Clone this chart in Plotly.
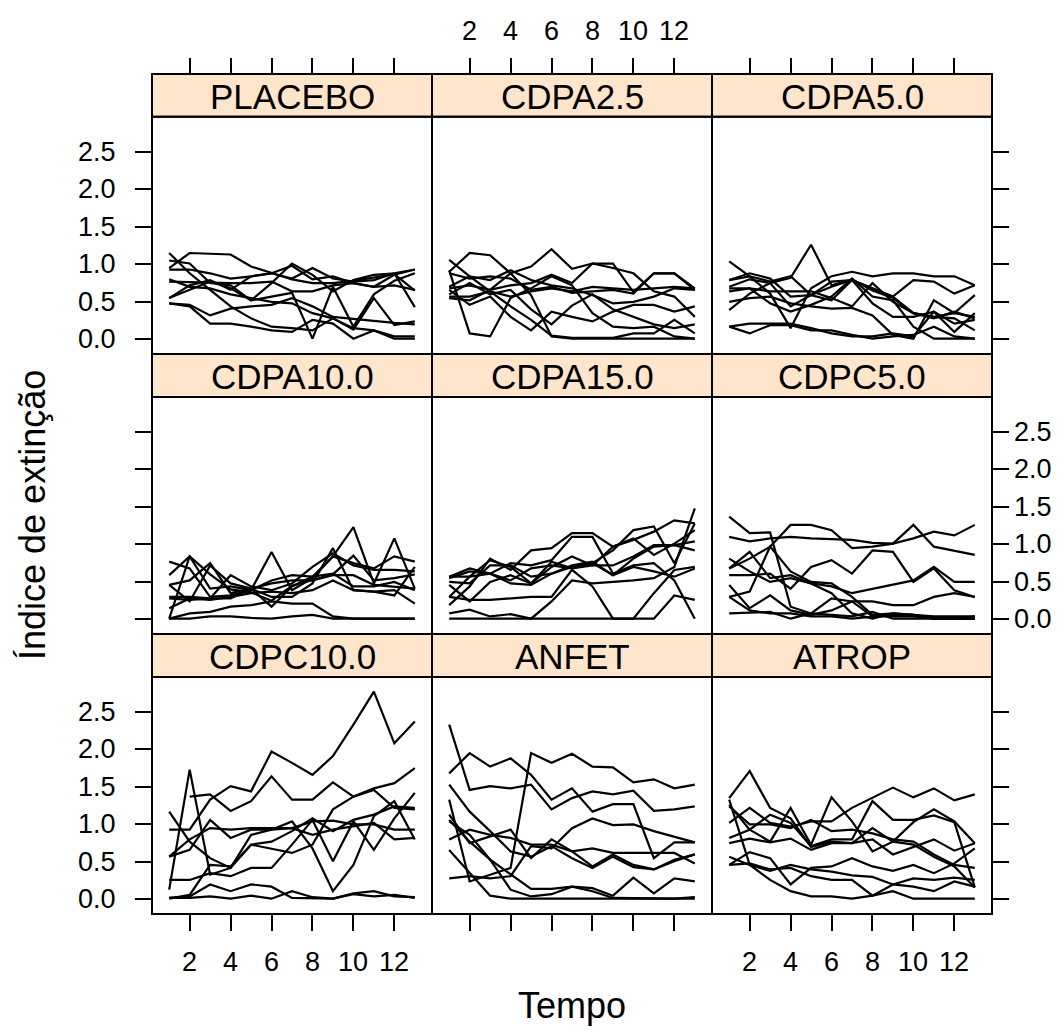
import plotly.graph_objects as go

TIME = list(range(1, 14))
PANELS = ["PLACEBO", "CDPA2.5", "CDPA5.0", "CDPA10.0", "CDPA15.0", "CDPC5.0",
          "CDPC10.0", "ANFET", "ATROP"]
X_TICKS = [2, 4, 6, 8, 10, 12]
X_TICKTEXT = ["2", "4", "6", "8", "10", "12"]
Y_TICKS = [0.0, 0.5, 1.0, 1.5, 2.0, 2.5]
Y_TICKTEXT = ["0.0", "0.5", "1.0", "1.5", "2.0", "2.5"]

PLACEBO = [
    [0.95, 1.15, 1.14, 1.13, 0.97, 0.88, 0.80, 0.75, 0.75, 0.78, 0.83, 0.87, 0.65],
    [1.15, 0.88, 0.66, 0.44, 0.28, 0.17, 0.15, 0.12, 0.28, 0.15, 0.12, 0.04, 0.04],
    [1.05, 1.01, 0.75, 0.72, 0.52, 0.75, 1.01, 0.86, 0.64, 0.79, 0.86, 0.88, 0.43],
    [0.93, 0.93, 0.88, 0.81, 0.84, 0.88, 0.81, 0.95, 0.81, 0.77, 0.79, 0.88, 0.93],
    [0.77, 0.76, 0.75, 0.75, 0.75, 0.77, 0.64, 0.64, 0.72, 0.75, 0.70, 0.72, 0.66],
    [0.55, 0.66, 0.77, 0.68, 0.52, 0.57, 0.62, 0.01, 0.70, 0.17, 0.60, 0.78, 0.88],
    [0.48, 0.46, 0.32, 0.41, 0.44, 0.46, 0.55, 0.44, 0.30, 0.27, 0.24, 0.22, 0.20],
    [0.48, 0.44, 0.21, 0.21, 0.17, 0.12, 0.10, 0.26, 0.21, 0.01, 0.12, 0.01, 0.01],
    [0.55, 0.72, 0.79, 0.66, 0.84, 0.88, 0.98, 0.80, 0.84, 0.75, 0.70, 0.86, 0.93],
    [0.80, 0.70, 0.68, 0.60, 0.55, 0.50, 0.48, 0.35, 0.28, 0.13, 0.55, 0.19, 0.24],
]
CDPA2_5 = [
    [0.90, 1.15, 1.12, 0.88, 0.59, 0.04, 0.01, 0.01, 0.01, 0.01, 0.01, 0.01, 0.01],
    [0.55, 0.52, 0.66, 0.88, 0.97, 1.20, 0.94, 1.01, 1.01, 0.63, 0.88, 0.88, 0.66],
    [1.06, 0.84, 0.64, 0.44, 0.26, 0.05, 0.02, 0.02, 0.02, 0.08, 0.08, 0.26, 0.08],
    [0.92, 0.08, 0.04, 0.55, 0.68, 0.84, 0.72, 0.35, 0.17, 0.15, 0.17, 0.04, 0.01],
    [0.68, 0.72, 0.66, 0.72, 0.75, 0.86, 0.75, 1.01, 0.95, 0.88, 0.64, 0.57, 0.30],
    [0.57, 0.57, 0.64, 0.57, 0.64, 0.68, 0.64, 0.70, 0.68, 0.66, 0.68, 0.70, 0.68],
    [0.66, 0.46, 0.57, 0.30, 0.12, 0.37, 0.30, 0.24, 0.37, 0.46, 0.46, 0.37, 0.44],
    [0.70, 0.84, 0.79, 0.92, 0.79, 0.72, 0.68, 0.59, 0.48, 0.50, 0.57, 0.68, 0.66],
    [0.60, 0.75, 0.60, 0.66, 0.40, 0.20, 0.45, 0.60, 0.40, 0.30, 0.20, 0.15, 0.20],
    [0.88, 0.81, 0.84, 0.81, 0.66, 0.70, 0.62, 0.64, 0.66, 0.61, 0.88, 0.88, 0.68],
]
CDPA5_0 = [
    [0.70, 0.80, 0.75, 0.82, 1.26, 0.72, 0.80, 0.65, 0.55, 0.35, 0.30, 0.35, 0.30],
    [1.04, 0.84, 0.61, 0.15, 0.68, 0.84, 0.90, 0.84, 0.88, 0.88, 0.84, 0.84, 0.72],
    [0.79, 0.88, 0.81, 0.57, 0.59, 0.52, 0.79, 0.68, 0.57, 0.35, 0.28, 0.37, 0.28],
    [0.68, 0.68, 0.64, 0.64, 0.64, 0.55, 0.44, 0.75, 0.50, 0.35, 0.30, 0.28, 0.12],
    [0.64, 0.68, 0.48, 0.37, 0.46, 0.57, 0.81, 0.57, 0.52, 0.17, 0.01, 0.01, 0.01],
    [0.39, 0.61, 0.75, 0.44, 0.59, 0.70, 0.79, 0.48, 0.30, 0.30, 0.37, 0.10, 0.35],
    [0.17, 0.08, 0.19, 0.19, 0.12, 0.12, 0.06, 0.01, 0.04, 0.06, 0.17, 0.04, 0.01],
    [0.17, 0.21, 0.21, 0.21, 0.15, 0.08, 0.04, 0.04, 0.08, 0.04, 0.37, 0.21, 0.26],
    [0.50, 0.55, 0.57, 0.48, 0.44, 0.41, 0.42, 0.32, 0.06, 0.01, 0.52, 0.35, 0.59],
    [0.79, 0.84, 0.77, 0.84, 0.59, 0.77, 0.79, 0.68, 0.57, 0.79, 0.77, 0.61, 0.72],
]
CDPA10_0 = [
    [0.01, 0.01, 0.04, 0.04, 0.02, 0.01, 0.04, 0.06, 0.01, 0.01, 0.01, 0.01, 0.01],
    [0.01, 0.08, 0.10, 0.17, 0.19, 0.24, 0.21, 0.21, 0.04, 0.01, 0.01, 0.01, 0.01],
    [0.77, 0.68, 0.30, 0.32, 0.39, 0.52, 0.59, 0.57, 0.84, 0.75, 0.68, 0.84, 0.77],
    [0.59, 0.84, 0.41, 0.44, 0.39, 0.90, 0.39, 0.55, 0.84, 1.23, 0.48, 1.08, 0.41],
    [0.01, 0.84, 0.60, 0.40, 0.36, 0.25, 0.45, 0.52, 0.60, 0.85, 0.52, 0.55, 0.60],
    [0.46, 0.52, 0.75, 0.35, 0.41, 0.17, 0.44, 0.57, 0.61, 0.44, 0.44, 0.50, 0.39],
    [0.30, 0.30, 0.28, 0.28, 0.41, 0.48, 0.52, 0.52, 0.59, 0.59, 0.46, 0.44, 0.41],
    [0.15, 0.28, 0.26, 0.30, 0.35, 0.37, 0.35, 0.39, 0.52, 0.39, 0.37, 0.39, 0.21],
    [0.46, 0.24, 0.72, 0.48, 0.41, 0.30, 0.30, 0.48, 0.95, 0.39, 0.37, 0.32, 0.70],
    [0.28, 0.26, 0.28, 0.59, 0.44, 0.39, 0.48, 0.70, 0.88, 0.72, 0.66, 0.66, 0.64],
]
CDPA15_0 = [
    [0.01, 0.01, 0.01, 0.01, 0.01, 0.01, 0.01, 0.01, 0.01, 0.01, 0.01, 0.32, 0.26],
    [0.08, 0.13, 0.04, 0.07, 0.01, 0.24, 0.52, 0.48, 0.50, 0.52, 0.55, 0.70, 1.48],
    [0.30, 0.26, 0.26, 0.28, 0.30, 0.30, 0.66, 0.44, 0.01, 0.01, 0.35, 0.66, 0.70],
    [0.19, 0.44, 0.81, 0.66, 0.92, 0.95, 1.15, 1.15, 0.97, 1.08, 0.86, 1.01, 1.19],
    [0.57, 0.68, 0.61, 0.75, 0.72, 0.79, 1.10, 1.10, 0.61, 0.72, 0.75, 0.52, 0.01],
    [0.57, 0.57, 0.61, 0.48, 0.46, 0.61, 0.70, 0.75, 0.92, 1.19, 1.24, 0.75, 1.28],
    [0.50, 0.48, 0.72, 0.72, 0.57, 0.61, 0.72, 0.77, 0.59, 0.70, 0.64, 0.57, 0.68],
    [0.46, 0.24, 0.50, 0.59, 0.48, 0.70, 0.84, 0.72, 0.97, 1.06, 1.17, 1.32, 1.28],
    [0.55, 0.64, 0.61, 0.52, 0.68, 0.72, 0.68, 0.75, 0.59, 0.81, 0.97, 0.99, 0.92],
    [0.30, 0.57, 0.79, 0.70, 0.48, 0.77, 0.68, 0.72, 0.72, 0.84, 0.99, 0.99, 1.04],
]
CDPC5_0 = [
    [1.37, 1.15, 1.16, 0.17, 0.08, 0.06, 0.04, 0.10, 0.01, 0.01, 0.01, 0.01, 0.01],
    [1.10, 1.04, 1.08, 1.10, 1.08, 1.07, 1.06, 1.02, 1.01, 1.08, 1.17, 1.12, 1.26],
    [0.68, 0.81, 0.97, 1.26, 1.26, 1.19, 0.95, 0.97, 1.01, 1.26, 0.97, 0.92, 0.86],
    [0.81, 0.64, 0.50, 0.55, 0.48, 0.44, 0.35, 0.41, 0.46, 0.52, 0.70, 0.50, 0.50],
    [0.59, 0.59, 0.61, 0.41, 0.70, 0.79, 0.61, 0.92, 0.90, 0.50, 0.68, 0.39, 0.30],
    [0.46, 0.15, 0.32, 0.12, 0.06, 0.12, 0.24, 0.24, 0.19, 0.19, 0.30, 0.35, 0.30],
    [0.30, 0.37, 0.97, 0.64, 0.50, 0.48, 0.30, 0.06, 0.08, 0.06, 0.01, 0.01, 0.04],
    [0.08, 0.09, 0.10, 0.01, 0.08, 0.28, 0.24, 0.04, 0.04, 0.04, 0.01, 0.01, 0.01],
    [0.68, 0.90, 0.55, 0.59, 0.48, 0.35, 0.08, 0.01, 0.08, 0.06, 0.01, 0.01, 0.01],
    [0.30, 0.12, 0.08, 0.08, 0.04, 0.04, 0.01, 0.04, 0.06, 0.06, 0.04, 0.04, 0.04],
]
CDPC10_0 = [
    [0.93, 0.93, 1.33, 1.51, 1.44, 1.97, 1.82, 1.66, 1.91, 2.33, 2.77, 2.08, 2.37],
    [None, 1.37, 1.40, 1.18, 1.31, 1.64, 1.33, 1.33, 1.56, 1.37, 1.48, 1.55, 1.75],
    [0.57, 0.66, 1.06, 0.82, 0.93, 0.93, 0.95, 0.86, 0.93, 0.97, 1.02, 0.80, 0.82],
    [0.13, 1.73, 0.33, 0.42, 0.73, 0.68, 0.62, 0.73, 1.20, 1.37, 1.46, 1.22, 1.20],
    [1.17, 0.77, 0.55, 0.42, 0.86, 0.93, 1.04, 0.68, 0.11, 0.46, 1.11, 1.31, 0.80],
    [0.26, 0.26, 0.35, 0.31, 0.42, 0.42, 0.73, 1.06, 0.51, 1.04, 0.66, 1.08, 1.42],
    [0.57, 0.80, 0.95, 0.93, 0.95, 0.95, 0.95, 1.04, 1.05, 1.00, 1.00, 0.93, 0.93],
    [0.02, 0.04, 0.20, 0.11, 0.20, 0.17, 0.02, 0.02, 0.01, 0.08, 0.11, 0.04, 0.03],
    [0.02, 0.02, 0.04, 0.01, 0.05, 0.01, 0.11, 0.03, 0.01, 0.07, 0.04, 0.06, 0.02],
    [0.01, 0.06, 0.46, 0.44, 0.73, 0.77, 0.91, 1.08, 0.91, 1.06, 1.13, 1.24, 1.22],
]
ANFET = [
    [2.33, 1.46, 1.51, 1.48, 1.53, 1.20, 1.35, 1.44, 1.40, 1.45, 1.18, 1.20, 1.24],
    [1.68, 1.95, 1.77, 1.88, 1.66, 1.33, 1.48, 1.17, 1.27, 1.27, 0.55, 0.76, 0.76],
    [1.53, 1.17, 0.91, 0.64, 0.57, 0.71, 0.55, 0.42, 0.57, 0.43, 0.40, 0.51, 0.60],
    [1.33, 0.24, 0.33, 0.42, 1.95, 1.82, 1.94, 1.77, 1.76, 1.56, 1.60, 1.48, 1.53],
    [1.13, 0.75, 0.84, 0.93, 0.55, 0.80, 0.64, 0.44, 0.60, 0.46, 0.40, 0.53, 0.60],
    [1.06, 0.77, 0.53, 0.13, 0.04, 0.07, 0.17, 0.11, 0.02, 0.02, 0.01, 0.01, 0.03],
    [0.80, 0.93, 0.86, 0.82, 0.73, 0.73, 0.64, 0.68, 0.62, 0.62, 0.62, 0.62, 0.48],
    [0.66, 0.35, 0.05, 0.01, 0.01, 0.01, 0.02, 0.02, 0.01, 0.02, 0.02, 0.01, 0.01],
    [0.28, 0.31, 0.28, 0.31, 0.71, 0.68, 0.95, 1.08, 0.99, 1.00, 0.91, 0.84, 0.76],
    [1.04, 0.86, 0.53, 0.33, 0.14, 0.14, 0.17, 0.15, 0.05, 0.29, 0.08, 0.28, 0.24],
]
ATROP = [
    [1.35, 1.71, 1.22, 1.08, 0.70, 0.77, 0.75, 0.80, 0.60, 0.70, 0.80, 0.65, 0.75],
    [1.02, 1.22, 1.02, 0.97, 1.04, 1.04, 1.22, 1.35, 1.49, 1.36, 1.48, 1.32, 1.40],
    [1.26, 0.93, 1.13, 1.02, 0.71, 0.80, 0.80, 1.31, 1.06, 1.06, 1.12, 1.03, 0.16],
    [1.33, 0.46, 0.26, 0.11, 0.04, 0.04, 0.01, 0.05, 0.11, 0.01, 0.01, 0.01, 0.01],
    [0.82, 0.93, 0.77, 1.22, 0.73, 1.36, 1.04, 0.64, 0.77, 1.03, 1.20, 1.04, 0.75],
    [0.75, 0.81, 0.76, 0.81, 0.66, 0.75, 0.75, 0.95, 0.77, 0.73, 0.57, 0.44, 0.16],
    [1.24, 1.00, 1.00, 0.95, 1.06, 0.91, 0.93, 0.88, 0.80, 0.77, 0.60, 0.46, 0.42],
    [0.46, 0.63, 0.55, 0.20, 0.42, 0.44, 0.55, 0.44, 0.38, 0.46, 0.35, 0.48, 0.68],
    [0.57, 0.46, 0.38, 0.46, 0.40, 0.37, 0.32, 0.30, 0.20, 0.17, 0.11, 0.24, 0.17],
    [0.46, 0.48, 0.40, 0.42, 0.31, 0.26, 0.26, 0.05, 0.20, 0.28, 0.26, 0.29, 0.26],
]
DATA = {"PLACEBO": PLACEBO, "CDPA2.5": CDPA2_5, "CDPA5.0": CDPA5_0,
        "CDPA10.0": CDPA10_0, "CDPA15.0": CDPA15_0, "CDPC5.0": CDPC5_0,
        "CDPC10.0": CDPC10_0, "ANFET": ANFET, "ATROP": ATROP}

# The page body has an 8px margin: the figure is made 16px smaller and
# all page-pixel positions are shifted by that margin.
OFF = 8
W, H = 1064 - OFF, 1034 - 2 * OFF
COL_X = [(152, 432), (432, 712), (712, 992)]
ROWS = [(74, 116.7, 354), (354, 397, 634), (634, 677, 914)]  # strip top, panel top, panel bottom
XR = [0.16, 13.84]
YR = [-0.194, 2.964]
FONT = "Liberation Sans, Arial, sans-serif"
TICK_FONT = dict(family=FONT, size=27, color="black")
STRIP_FILL = "#FFE5CC"


def px(x):
    return (x - OFF) / W


def py(y):
    return 1 - (y - OFF) / H


fig = go.Figure()
layout = dict(width=W, height=H, margin=dict(l=0, r=0, t=0, b=0, pad=0),
              paper_bgcolor="white", plot_bgcolor="white", showlegend=False)
shapes, annotations = [], []


def tick_label(text, **kw):
    d = dict(text=text, showarrow=False, font=TICK_FONT)
    d.update(kw)
    annotations.append(d)


for idx, name in enumerate(PANELS):
    r, c = divmod(idx, 3)
    n = idx + 1
    xa = "x" if n == 1 else f"x{n}"
    ya = "y" if n == 1 else f"y{n}"
    for series in DATA[name]:
        fig.add_trace(go.Scatter(x=TIME, y=series, mode="lines",
                                 line=dict(color="black", width=2.2),
                                 xaxis=xa, yaxis=ya, hoverinfo="skip",
                                 connectgaps=False))
    x0, x1 = COL_X[c]
    st, pt, pb = ROWS[r]
    xaxis = dict(range=XR, domain=[px(x0), px(x1)], showgrid=False, zeroline=False,
                 showline=False, tickvals=X_TICKS, ticks="", showticklabels=False,
                 ticklen=16, tickwidth=2, tickcolor="black", fixedrange=True)
    if r == 2:
        xaxis.update(anchor=ya, side="bottom", ticks="outside")
        if c != 1:
            for v, t in zip(X_TICKS, X_TICKTEXT):
                tick_label(t, xref=xa, x=v, yref="paper", y=py(962),
                           xanchor="center", yanchor="middle")
    elif r == 0:
        xaxis.update(anchor="free", position=py(st), side="top", ticks="outside")
        if c == 1:
            for v, t in zip(X_TICKS, X_TICKTEXT):
                tick_label(t, xref=xa, x=v, yref="paper", y=py(31),
                           xanchor="center", yanchor="middle")
    else:
        xaxis.update(anchor=ya)
    yaxis = dict(range=YR, domain=[py(pb), py(pt)], showgrid=False, zeroline=False,
                 showline=False, tickvals=Y_TICKS, ticks="", showticklabels=False,
                 ticklen=16, tickwidth=2, tickcolor="black", anchor=xa,
                 fixedrange=True)
    if c == 0:
        yaxis.update(side="left", ticks="outside")
        if r != 1:
            for v, t in zip(Y_TICKS, Y_TICKTEXT):
                tick_label(t, xref="paper", x=px(118), yref=ya, y=v,
                           xanchor="right", yanchor="middle")
    elif c == 2:
        yaxis.update(side="right", ticks="outside")
        if r == 1:
            for v, t in zip(Y_TICKS, Y_TICKTEXT):
                tick_label(t, xref="paper", x=px(1012), yref=ya, y=v,
                           xanchor="left", yanchor="middle")
    layout["xaxis" if n == 1 else f"xaxis{n}"] = xaxis
    layout["yaxis" if n == 1 else f"yaxis{n}"] = yaxis

    shapes.append(dict(type="rect", xref="paper", yref="paper",
                       x0=px(x0), x1=px(x1), y0=py(pt), y1=py(st),
                       fillcolor=STRIP_FILL, line=dict(color="black", width=2),
                       layer="below"))
    shapes.append(dict(type="rect", xref="paper", yref="paper",
                       x0=px(x0), x1=px(x1), y0=py(pb), y1=py(pt),
                       fillcolor="rgba(0,0,0,0)", line=dict(color="black", width=2),
                       layer="above"))
    annotations.append(dict(text=name, xref="paper", yref="paper",
                            x=px((x0 + x1) / 2), y=py((st + pt) / 2 + 1),
                            xanchor="center", yanchor="middle", showarrow=False,
                            font=dict(family=FONT, size=35, color="black")))

annotations.append(dict(text="Tempo", xref="paper", yref="paper", x=px(572),
                        y=py(1005), xanchor="center", yanchor="middle",
                        showarrow=False, font=dict(family=FONT, size=36, color="black")))
annotations.append(dict(text="Índice de extinção", xref="paper", yref="paper",
                        x=px(32), y=py(515), xanchor="center", yanchor="middle",
                        textangle=-90, showarrow=False,
                        font=dict(family=FONT, size=36, color="black")))

layout["shapes"] = shapes
layout["annotations"] = annotations
fig.update_layout(**layout)
fig.write_html("out.html")
